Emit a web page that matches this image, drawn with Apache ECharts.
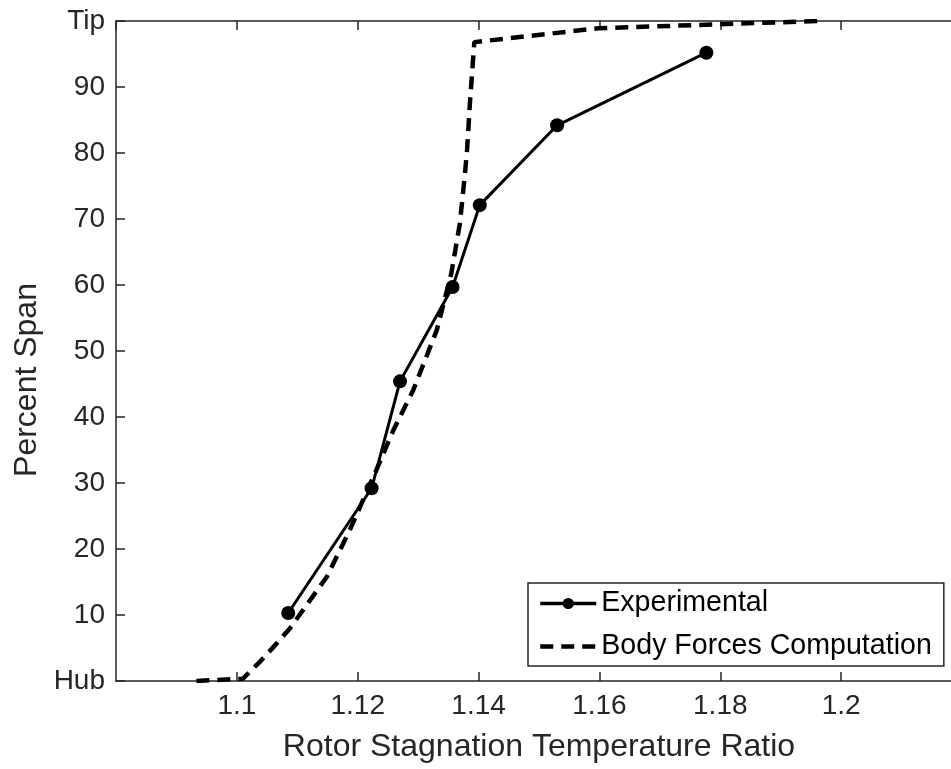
<!DOCTYPE html>
<html>
<head>
<meta charset="utf-8">
<script src="https://cdn.jsdelivr.net/npm/echarts@6/dist/echarts.min.js"></script>
<style>
html,body{margin:0;padding:0;background:#fff;overflow:hidden;width:951px;height:769px;}
#chart{width:1000px;height:769px;}
</style>
</head>
<body>
<div id="chart"></div>
<script>
// Experimental data
const expX = [1.1085, 1.1223, 1.127, 1.1357, 1.1402, 1.153, 1.1777];
const expY = [10.3, 29.2, 45.4, 59.7, 72.1, 84.2, 95.2];
// Body Forces Computation
const bfX = [1.0933, 1.101, 1.1038, 1.1066, 1.1088, 1.1149, 1.1187, 1.1231, 1.1259, 1.1292, 1.1331, 1.1355, 1.1369, 1.1377, 1.1381, 1.1386, 1.1393, 1.1598, 1.1962];
const bfY = [0, 0.35, 2.9, 5.7, 8.0, 15.8, 22.9, 32.0, 38.0, 44.1, 53.2, 61.8, 69.3, 76.4, 80.5, 88.0, 96.8, 98.9, 100];
const seriesNames = ['Experimental', 'Body Forces Computation'];
const yEndLabels = {0: 'Hub', 100: 'Tip'};
const xTitle = 'Rotor Stagnation Temperature Ratio';
const yTitle = 'Percent Span';

const FONT = '"Liberation Sans", Arial, sans-serif';
const AX = '#262626';
const chart = echarts.init(document.getElementById('chart'), null, {renderer: 'canvas'});
const pair = (xs, ys) => xs.map((x, i) => [x, ys[i]]);

chart.setOption({
  animation: false,
  backgroundColor: '#fff',
  grid: {left: 116, top: 21, bottom: 88, right: 38, containLabel: false},
  xAxis: [{
    type: 'value', position: 'bottom', min: 1.08, max: 1.22, interval: 0.02,
    name: xTitle, nameLocation: 'middle', nameGap: 50,
    nameTextStyle: {fontFamily: FONT, fontSize: 32, color: AX},
    axisLine: {show: true, onZero: false, lineStyle: {color: AX, width: 1.5}},
    axisTick: {show: true, inside: true, length: 9, lineStyle: {color: AX, width: 1.5}},
    axisLabel: {
      show: true, margin: 11, fontFamily: FONT, fontSize: 28, color: AX,
      showMinLabel: false, showMaxLabel: false,
      formatter: v => String(parseFloat(v.toFixed(2)))
    },
    splitLine: {show: false}
  }, {
    type: 'value', position: 'top', min: 1.08, max: 1.22, interval: 0.02,
    axisLine: {show: true, onZero: false, lineStyle: {color: AX, width: 1.5}},
    axisTick: {show: true, inside: true, length: 9, lineStyle: {color: AX, width: 1.5}},
    axisLabel: {show: false},
    splitLine: {show: false}
  }],
  yAxis: {
    type: 'value', min: 0, max: 100, interval: 10,
    name: yTitle, nameLocation: 'middle', nameGap: 65, nameRotate: 90,
    nameTextStyle: {fontFamily: FONT, fontSize: 32, color: AX, padding: [0, 58, 0, 0]},
    axisLine: {show: true, onZero: false, lineStyle: {color: AX, width: 1.5}},
    axisTick: {show: true, inside: true, length: 9, lineStyle: {color: AX, width: 1.5}},
    axisLabel: {
      margin: 11, fontFamily: FONT, fontSize: 28, color: AX,
      formatter: v => (yEndLabels[v] !== undefined ? yEndLabels[v] : String(v))
    },
    splitLine: {show: false}
  },
  legend: {
    left: 528, top: 583, orient: 'vertical',
    backgroundColor: '#fff', borderColor: AX, borderWidth: 1.5,
    padding: [6, 12, 5, 10], itemGap: 14, itemWidth: 56, itemHeight: 14,
    textStyle: {fontFamily: FONT, fontSize: 28.6, color: '#000'},
    data: [
      {name: seriesNames[0], lineStyle: {width: 3.5}},
      {name: seriesNames[1], lineStyle: {width: 4.5},
       itemStyle: {color: 'rgba(0,0,0,0)', borderWidth: 0, opacity: 0}}
    ]
  },
  series: [{
    name: seriesNames[0], type: 'line', data: pair(expX, expY),
    symbol: 'circle', symbolSize: 14, z: 3,
    lineStyle: {color: '#000', width: 3},
    itemStyle: {color: '#000'}
  }, {
    name: seriesNames[1], type: 'line', data: pair(bfX, bfY),
    symbol: 'none', showSymbol: false, z: 2,
    lineStyle: {color: '#000', width: 4.5, type: [13, 8]},
    itemStyle: {color: '#000'}
  }]
});
</script>
</body>
</html>
